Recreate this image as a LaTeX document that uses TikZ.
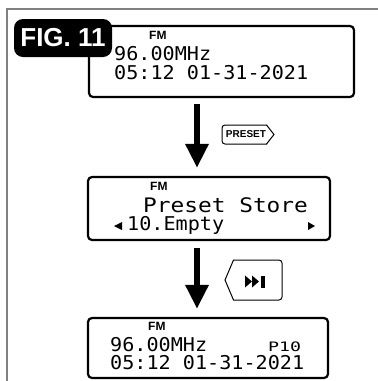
\documentclass[tikz,border=0pt]{standalone}
\usepackage{fontspec}
\usepackage{xcolor}
\usepackage{tikz}
\usetikzlibrary{arrows.meta, positioning, calc}
\setmainfont{Liberation Sans}
\newfontfamily\lcd[FakeStretch=1.06]{DejaVu Sans Mono}
\newfontfamily\lcdwide[FakeStretch=1.14]{DejaVu Sans Mono}
\newfontfamily\lcdsmall[FakeStretch=1.4]{DejaVu Sans Mono}
\definecolor{framegray}{RGB}{128, 128, 128}

\tikzset{
  display/.style={draw, line width=2.2pt, rounded corners=4pt, inner sep=0pt},
  lcdline/.style={anchor=base west, inner sep=0pt, font=\lcd\fontsize{19}{19}\selectfont},
  fmlabel/.style={anchor=base west, inner sep=0pt, font=\bfseries\fontsize{12}{12}\selectfont},
  bigarrow/.style={line width=6pt, -{Triangle[width=22pt,length=24pt]}},
  keybox/.style={line width=1pt, rounded corners=3pt}
}

\begin{document}
\begin{tikzpicture}[x=1pt, y=-1pt]
            \useasboundingbox (0,0) rectangle (378,381);
            \draw[framegray, line width=1.5pt] (7,381) -- (7,9) -- (378,9);

            % display 1
            \node[display, minimum width=265pt, minimum height=71pt] (disp1) at (221.5,61.5) {};
            \node[fmlabel] (fmA) at (149,39) {FM};
            \node[lcdline] (freqA) at (114,60) {96.00MHz};
            \node[lcdline] (timeA) at (114,79) {05:12 01-31-2021};

            \node[fill=black, text=white, rounded corners=9pt, minimum width=98pt, minimum height=38pt,
                  inner sep=0pt, font=\bfseries\fontsize{26}{26}\selectfont] (fig) at (63,38) {FIG. 11};

            % display 2
            \node[display, minimum width=242pt, minimum height=63pt] (disp2) at (209,208.5) {};
            \node[fmlabel] (fmB) at (150,190) {FM};
            \node[lcdline, font=\lcdwide\fontsize{20}{20}\selectfont] (store) at (143,212) {Preset Store};
            \node[lcdline] (empty) at (127,230) {10.Empty};
            \fill (114,226) -- (122,222) -- (122,230) -- cycle;
            \fill (308,222) -- (315,226) -- (308,230) -- cycle;

            % display 3
            \node[display, minimum width=240pt, minimum height=60pt] (disp3) at (208,348) {};
            \node[fmlabel] (fmC) at (148,330) {FM};
            \node[lcdline] (freqC) at (110,351) {96.00MHz};
            \node[lcdline, font=\lcdsmall\fontsize{13}{13}\selectfont] (pnum) at (268,351) {P10};
            \node[lcdline] (timeC) at (110,369) {05:12 01-31-2021};

            % frecce
            \coordinate (ax) at (197,0);
            \draw[bigarrow, shorten <=6pt, shorten >=8pt] (disp1.south -| ax) -- (disp2.north -| ax);
            \draw[bigarrow, shorten <=7pt, shorten >=8pt] (disp2.south -| ax) -- (disp3.north -| ax);

            % tasti
            \node[inner sep=0pt, font=\bfseries\fontsize{10}{10}\selectfont] (preset) at (246,134.5) {PRESET};
            \draw[keybox] (267,125) -- (222,125) -- (222,144) -- (267,144);
            \draw[line width=1pt] (266.5,125) -- (274,134.5) -- (266.5,144);

            \draw[keybox] (233,260) -- (282,260) -- (282,300) -- (233,300);
            \draw[line width=1pt] (233.5,260) -- (225,280) -- (233.5,300);
            \fill (245,275.5) -- (252,281.5) -- (245,287.5) -- cycle;
            \fill (252,275.5) -- (259,281.5) -- (252,287.5) -- cycle;
            \fill (260.5,275.5) rectangle (264.5,287.5);
        \end{tikzpicture}
\end{document}
